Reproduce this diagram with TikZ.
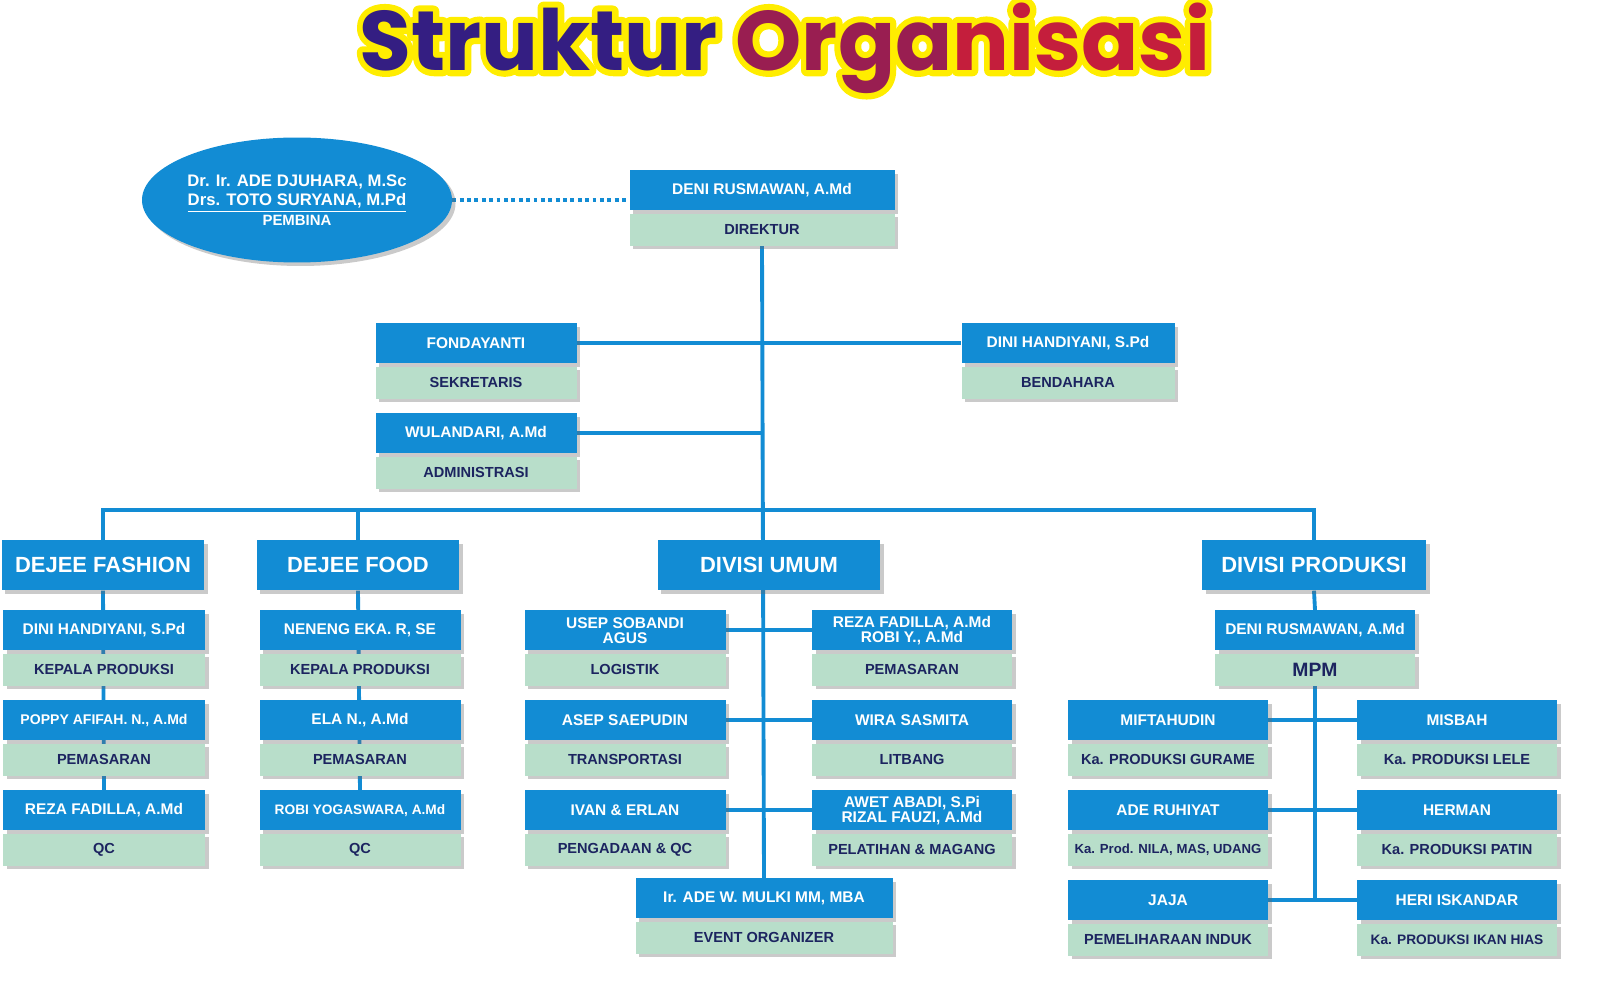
\documentclass[tikz,border=0pt]{standalone}
\usepackage{fontspec}
\setmainfont{Liberation Sans}
\newfontfamily\titlefont{Poppins}
\usetikzlibrary{positioning,shapes.geometric,shadows,backgrounds}
\definecolor{orgblue}{RGB}{18,140,212}
\definecolor{orggreen}{RGB}{184,222,202}
\definecolor{orgnavy}{RGB}{28,36,96}
\definecolor{titleA}{RGB}{52,30,130}
\definecolor{titleB}{RGB}{196,30,60}
\tikzset{
  shade/.style={drop shadow={shadow xshift=2pt,shadow yshift=-2pt,opacity=.35,fill=black!60}},
  namebox/.style={rectangle,fill=orgblue,text=white,font=\bfseries\fontsize{8.8}{8.5}\selectfont,
    minimum height=0.8cm,inner sep=1pt,align=center,shade},
  rolebox/.style={rectangle,fill=orggreen,text=orgnavy,font=\bfseries\fontsize{8.3}{9}\selectfont,
    minimum height=0.64cm,inner sep=1pt,align=center,shade},
  divbox/.style={namebox,minimum height=1cm,font=\bfseries\fontsize{12.5}{13}\selectfont},
  link/.style={orgblue,line width=2.2pt}
}
% name, centre x, top y, width, name text, role text
\newcommand\orgunit[6]{%
  \node[namebox,anchor=north,minimum width=#4*0.02cm] (#1) at (#2,#3) {#5};
  \node[rolebox,below=1.5pt of #1,minimum width=#4*0.02cm] (#1r) {#6};}
\begin{document}
\begin{tikzpicture}[x=0.02cm,y=-0.02cm]
% title
\node[font=\titlefont\bfseries\fontsize{48}{52}\selectfont] (title) at (785,48)
  {\special{pdf:code q 1 Tr 7 w 1 j 1 0.93 0 RG}Struktur Organisasi\special{pdf:code Q}};
\node[font=\titlefont\bfseries\fontsize{48}{52}\selectfont] (title2) at (785,48)
  {\textcolor{titleA}{Struktur} \textcolor{titleB!70!titleA}{Orga}\textcolor{titleB}{nisasi}};
% pembina
\node[ellipse,fill=orgblue,minimum width=5.6cm,minimum height=2.5cm,inner sep=0pt,shade,
  text=white,align=center,font=\bfseries\fontsize{9.5}{11}\selectfont] (pembina) at (297,200)
  {Dr. Ir. ADE DJUHARA, M.Sc\\\underline{Drs. TOTO SURYANA, M.Pd}\\{\fontsize{8.5}{10}\selectfont PEMBINA}};
\orgunit{dir}{762}{170}{265}{DENI RUSMAWAN, A.Md}{DIREKTUR}
\orgunit{fond}{476}{323}{201}{FONDAYANTI}{SEKRETARIS}
\orgunit{dini}{1068}{323}{213}{DINI HANDIYANI, S.Pd}{BENDAHARA}
\orgunit{wul}{476}{413}{201}{WULANDARI, A.Md}{ADMINISTRASI}
% divisions
\node[divbox,anchor=north,minimum width=4.06cm] (fash) at (103,540) {DEJEE FASHION};
\node[divbox,anchor=north,minimum width=4.06cm] (food) at (358,540) {DEJEE FOOD};
\node[divbox,anchor=north,minimum width=4.46cm] (umum) at (769,540) {DIVISI UMUM};
\node[divbox,anchor=north,minimum width=4.48cm] (prod) at (1314,540) {DIVISI PRODUKSI};
\coordinate (bus) at (0,510);
% dejee fashion
\orgunit{fash1}{104}{610}{202}{DINI HANDIYANI, S.Pd}{KEPALA PRODUKSI}
\orgunit{fash2}{104}{700}{202}{{\fontsize{8}{8}\selectfont POPPY AFIFAH. N., A.Md}}{PEMASARAN}
\orgunit{fash3}{104}{790}{202}{REZA FADILLA, A.Md}{QC}
% dejee food
\orgunit{food1}{360}{610}{201}{NENENG EKA. R, SE}{KEPALA PRODUKSI}
\orgunit{food2}{360}{700}{201}{ELA N., A.Md}{PEMASARAN}
\orgunit{food3}{360}{790}{201}{{\fontsize{7.8}{8}\selectfont ROBI YOGASWARA, A.Md}}{QC}
% divisi umum
\orgunit{log}{625}{610}{201}{USEP SOBANDI\\AGUS}{LOGISTIK}
\orgunit{tra}{625}{700}{201}{ASEP SAEPUDIN}{TRANSPORTASI}
\orgunit{pqc}{625}{790}{201}{IVAN \& ERLAN}{PENGADAAN \& QC}
\orgunit{pem}{912}{610}{200}{REZA FADILLA, A.Md\\ROBI Y., A.Md}{PEMASARAN}
\orgunit{lit}{912}{700}{200}{WIRA SASMITA}{LITBANG}
\orgunit{pel}{912}{790}{200}{AWET ABADI, S.Pi\\RIZAL FAUZI, A.Md}{PELATIHAN \& MAGANG}
\orgunit{eo}{764}{878}{257}{Ir. ADE W. MULKI MM, MBA}{EVENT ORGANIZER}
% divisi produksi
\orgunit{mpm}{1315}{610}{200}{DENI RUSMAWAN, A.Md}{\fontsize{11}{11}\selectfont MPM}
\orgunit{gur}{1168}{700}{200}{MIFTAHUDIN}{Ka. PRODUKSI GURAME}
\orgunit{nila}{1168}{790}{200}{ADE RUHIYAT}{{\fontsize{7.5}{9}\selectfont Ka. Prod. NILA, MAS, UDANG}}
\orgunit{induk}{1168}{880}{200}{JAJA}{PEMELIHARAAN INDUK}
\orgunit{lele}{1457}{700}{200}{MISBAH}{Ka. PRODUKSI LELE}
\orgunit{patin}{1457}{790}{200}{HERMAN}{Ka. PRODUKSI PATIN}
\orgunit{hias}{1457}{880}{200}{HERI ISKANDAR}{{\fontsize{7.8}{9}\selectfont Ka. PRODUKSI IKAN HIAS}}
\begin{scope}[on background layer]
\draw[orgblue,line width=2.2pt,dotted] (pembina.east) -- (pembina.east -| dir.west);
\draw[link] (dirr.south) -- (eo.north);
\draw[link] (fond.east) -- (dini.west);
\draw[link] (wul.east) -- (wul.east -| dir.south);
\draw[link] (fash.north) -- (fash.north |- bus) -- (prod.north |- bus) -- (prod.north);
\draw[link] (food.north) -- (food.north |- bus);
\draw[link] (fash.south) -- (fash3.north);
\draw[link] (food.south) -- (food3.north);
\draw[link] (log.east) -- (pem.west);
\draw[link] (tra.east) -- (lit.west);
\draw[link] (pqc.east) -- (pel.west);
\draw[link] (prod.south) -- (mpm.north);
\draw[link] (mpmr.south) -- (mpmr.south |- induk.east);
\draw[link] (gur.east) -- (lele.west);
\draw[link] (nila.east) -- (patin.west);
\draw[link] (induk.east) -- (hias.west);
\end{scope}
\pgfresetboundingbox
\useasboundingbox (0,0) rectangle (1600,982);
\end{tikzpicture}
\end{document}
